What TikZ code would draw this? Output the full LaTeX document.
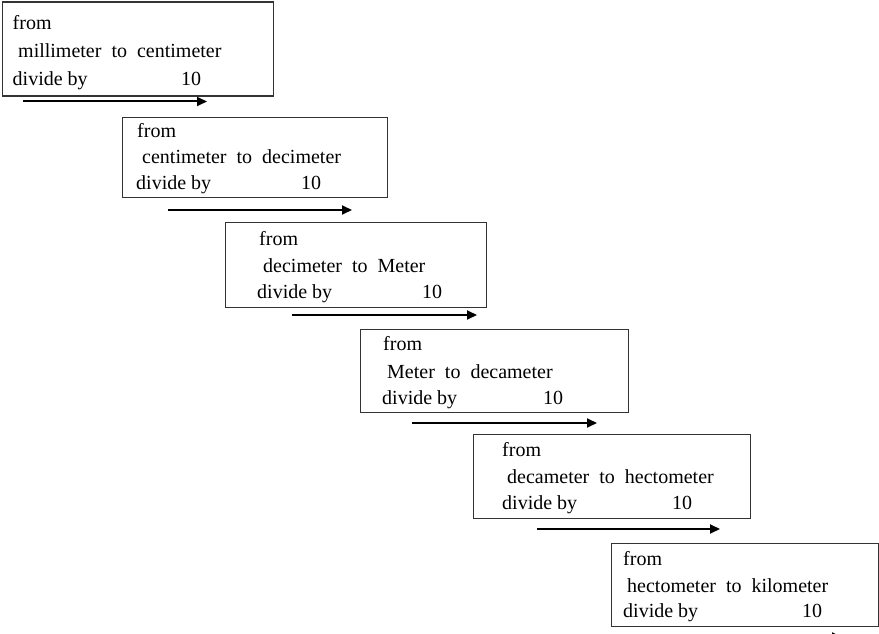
\documentclass[tikz,border=0pt]{standalone}
\usepackage{fontspec}
\setmainfont{Liberation Serif}
\usetikzlibrary{arrows.meta}
\tikzset{
  box/.style={draw=black!80, line width=1.1pt, inner sep=0pt, anchor=north west, rectangle},
  txt/.style={anchor=base west, inner sep=0pt, font=\fontsize{20}{24}\selectfont},
  arr/.style={line width=2pt, -{Triangle[length=10pt,width=9pt]}}
}
\begin{document}
\begin{tikzpicture}[x=1pt,y=-1pt]
\useasboundingbox (0,0) rectangle (879,634);
\clip (0,0) rectangle (879,634);
% box 1
\node[box, minimum width=271pt, minimum height=94pt] (b1) at (1.5,1.5) {};
\node[txt] (b1l1) at (12.5,30) {from};
\node[txt] (b1l2) at (18,58) {millimeter\ \ to\ \ centimeter};
\node[txt] (b1l3) at (12.5,86) {divide by};
\node[txt] (b1n) at (181,86) {10};
\coordinate (a1s) at (23,101.5);
\coordinate (a1e) at (207,101.5);
\draw[arr] (a1s) -- (a1e);
% box 2
\node[box, minimum width=265pt, minimum height=80pt] (b2) at (122,117) {};
\node[txt] (b2l1) at (137,137) {from};
\node[txt] (b2l2) at (142,163) {centimeter\ \ to\ \ decimeter};
\node[txt] (b2l3) at (136,189) {divide by};
\node[txt] (b2n) at (301,189) {10};
\coordinate (a2s) at (168,210);
\coordinate (a2e) at (352,210);
\draw[arr] (a2s) -- (a2e);
% box 3
\node[box, minimum width=261pt, minimum height=85pt] (b3) at (225,222) {};
\node[txt] (b3l1) at (259,245) {from};
\node[txt] (b3l2) at (263,272) {decimeter\ \ to\ \ Meter};
\node[txt] (b3l3) at (257,298) {divide by};
\node[txt] (b3n) at (422,298) {10};
\coordinate (a3s) at (292,315);
\coordinate (a3e) at (477,315);
\draw[arr] (a3s) -- (a3e);
% box 4
\node[box, minimum width=268pt, minimum height=83pt] (b4) at (360,329) {};
\node[txt] (b4l1) at (383,350) {from};
\node[txt] (b4l2) at (387,378) {Meter\ \ to\ \ decameter};
\node[txt] (b4l3) at (382,404) {divide by};
\node[txt] (b4n) at (543,404) {10};
\coordinate (a4s) at (412,423);
\coordinate (a4e) at (597,423);
\draw[arr] (a4s) -- (a4e);
% box 5
\node[box, minimum width=277pt, minimum height=84pt] (b5) at (473,434) {};
\node[txt] (b5l1) at (502,456) {from};
\node[txt] (b5l2) at (507,483) {decameter\ \ to\ \ hectometer};
\node[txt] (b5l3) at (502,509) {divide by};
\node[txt] (b5n) at (672,509) {10};
\coordinate (a5s) at (537,529);
\coordinate (a5e) at (720,529);
\draw[arr] (a5s) -- (a5e);
% box 6
\node[box, minimum width=267pt, minimum height=83pt] (b6) at (611,543) {};
\node[txt] (b6l1) at (623,565) {from};
\node[txt] (b6l2) at (627,592) {hectometer\ \ to\ \ kilometer};
\node[txt] (b6l3) at (623,617) {divide by};
\node[txt] (b6n) at (802,617) {10};
\coordinate (a6s) at (658,637);
\coordinate (a6e) at (842,637);
\draw[arr] (a6s) -- (a6e);
\end{tikzpicture}
\end{document}
